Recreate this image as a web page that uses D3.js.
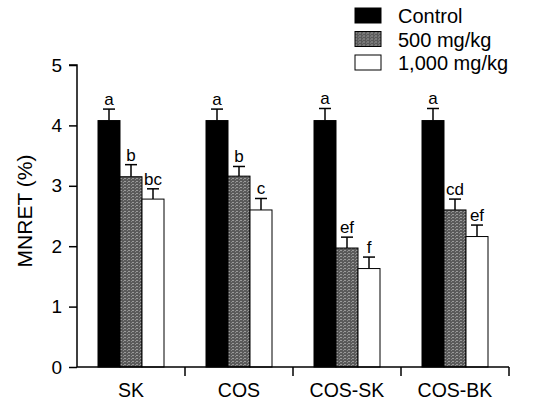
<!DOCTYPE html>
<html>
<head>
<meta charset="utf-8">
<script src="https://cdn.jsdelivr.net/npm/d3@7"></script>
<style>
  body { margin: 0; background: #fff; }
  svg { display: block; font-family: "Liberation Sans", Arial, sans-serif; }
</style>
</head>
<body>
<svg width="546" height="402"></svg>
<script>
const groups = ["SK", "COS", "COS-SK", "COS-BK"];
const series = ["Control", "500 mg/kg", "1,000 mg/kg"];
const control = [4.08, 4.08, 4.08, 4.08];
const dose500 = [3.15, 3.16, 1.97, 2.6];
const dose1000 = [2.78, 2.6, 1.63, 2.16];
const errControl = [0.19, 0.19, 0.2, 0.2];
const err500 = [0.2, 0.16, 0.18, 0.18];
const err1000 = [0.17, 0.19, 0.19, 0.19];
const letters500 = ["b", "b", "ef", "cd"];
const letters1000 = ["bc", "c", "f", "ef"];
const lettersControl = ["a", "a", "a", "a"];
const yTicks = [0, 1, 2, 3, 4, 5];

const values = [control, dose500, dose1000];
const errs = [errControl, err500, err1000];
const lets = [lettersControl, letters500, letters1000];
const fills = ["#000", "url(#grain)", "#fff"];

const svg = d3.select("svg");

// grainy gray texture for the 500 mg/kg bars
const pat = svg.append("defs").append("pattern")
  .attr("id", "grain")
  .attr("patternUnits", "userSpaceOnUse")
  .attr("width", 4).attr("height", 3);
pat.append("rect").attr("width", 4).attr("height", 3).attr("fill", "#5a5a5a");
pat.append("rect").attr("x", 0).attr("y", 1).attr("width", 2).attr("height", 1).attr("fill", "#9a9a9a");
pat.append("rect").attr("x", 3).attr("y", 2).attr("width", 1).attr("height", 1).attr("fill", "#8a8a8a");

const x0 = d3.scaleBand().domain(groups).range([77, 509]).paddingInner(0).paddingOuter(0);
const x1 = d3.scaleBand().domain(series).range([21, 87]).padding(0);
const y = d3.scaleLinear().domain([0, 5]).range([367, 65]);

const data = [];
groups.forEach((g, gi) => {
  series.forEach((s, si) => {
    data.push({ g, s, v: values[si][gi], e: errs[si][gi], l: lets[si][gi], fill: fills[si] });
  });
});

const bar = svg.append("g").selectAll("g").data(data).join("g")
  .attr("transform", d => `translate(${x0(d.g) + x1(d.s)},0)`);

const bw = x1.bandwidth();

// error bars (upward only)
bar.append("line")
  .attr("x1", bw / 2).attr("x2", bw / 2)
  .attr("y1", d => y(d.v)).attr("y2", d => y(d.v + d.e))
  .attr("stroke", "#000").attr("stroke-width", 1.5);
bar.append("line")
  .attr("x1", bw / 2 - 6).attr("x2", bw / 2 + 6)
  .attr("y1", d => y(d.v + d.e)).attr("y2", d => y(d.v + d.e))
  .attr("stroke", "#000").attr("stroke-width", 1.5);

bar.append("rect")
  .attr("x", 0).attr("width", bw)
  .attr("y", d => y(d.v)).attr("height", d => y(0) - y(d.v))
  .attr("fill", d => d.fill)
  .attr("stroke", "#000").attr("stroke-width", 1);

bar.append("text")
  .attr("x", bw / 2).attr("y", d => y(d.v + d.e) - 4)
  .attr("text-anchor", "middle")
  .attr("font-size", 17)
  .text(d => d.l);

// y axis
const yAxis = svg.append("g")
  .attr("transform", "translate(77,0)")
  .call(d3.axisLeft(y).tickValues(yTicks).tickFormat(d3.format("d")).tickSize(8).tickPadding(7));
yAxis.selectAll("text").attr("font-size", 19).attr("fill", "#000");
yAxis.selectAll("line, path").attr("stroke", "#000").attr("stroke-width", 1.5);
yAxis.select(".domain").attr("d", `M-8,${y(5)}H0V${y(0)}`);

// x axis: ticks between groups
const xAxis = svg.append("g")
  .attr("transform", `translate(0,${y(0)})`);
xAxis.append("line").attr("x1", 77).attr("x2", 509)
  .attr("stroke", "#000").attr("stroke-width", 1.5);
xAxis.selectAll(".tk").data(groups).join("line")
  .attr("x1", d => x0(d) + x0.bandwidth()).attr("x2", d => x0(d) + x0.bandwidth())
  .attr("y1", 0).attr("y2", 9)
  .attr("stroke", "#000").attr("stroke-width", 1.5);
xAxis.selectAll("text").data(groups).join("text")
  .attr("x", d => x0(d) + x0.bandwidth() / 2)
  .attr("y", 30)
  .attr("text-anchor", "middle")
  .attr("font-size", 19.5)
  .text(d => d);

// y label
svg.append("text")
  .attr("transform", "translate(32,211) rotate(-90)")
  .attr("text-anchor", "middle")
  .attr("font-size", 21)
  .text("MNRET (%)");

// legend
const leg = svg.append("g").selectAll("g").data(series).join("g")
  .attr("transform", (d, i) => `translate(355,${8 + i * 23.5})`);
leg.append("rect")
  .attr("width", 26).attr("height", 15)
  .attr("fill", (d, i) => fills[i])
  .attr("stroke", "#000").attr("stroke-width", 1);
leg.append("text")
  .attr("x", 43).attr("y", 15)
  .attr("font-size", 20)
  .text(d => d);
</script>
</body>
</html>
